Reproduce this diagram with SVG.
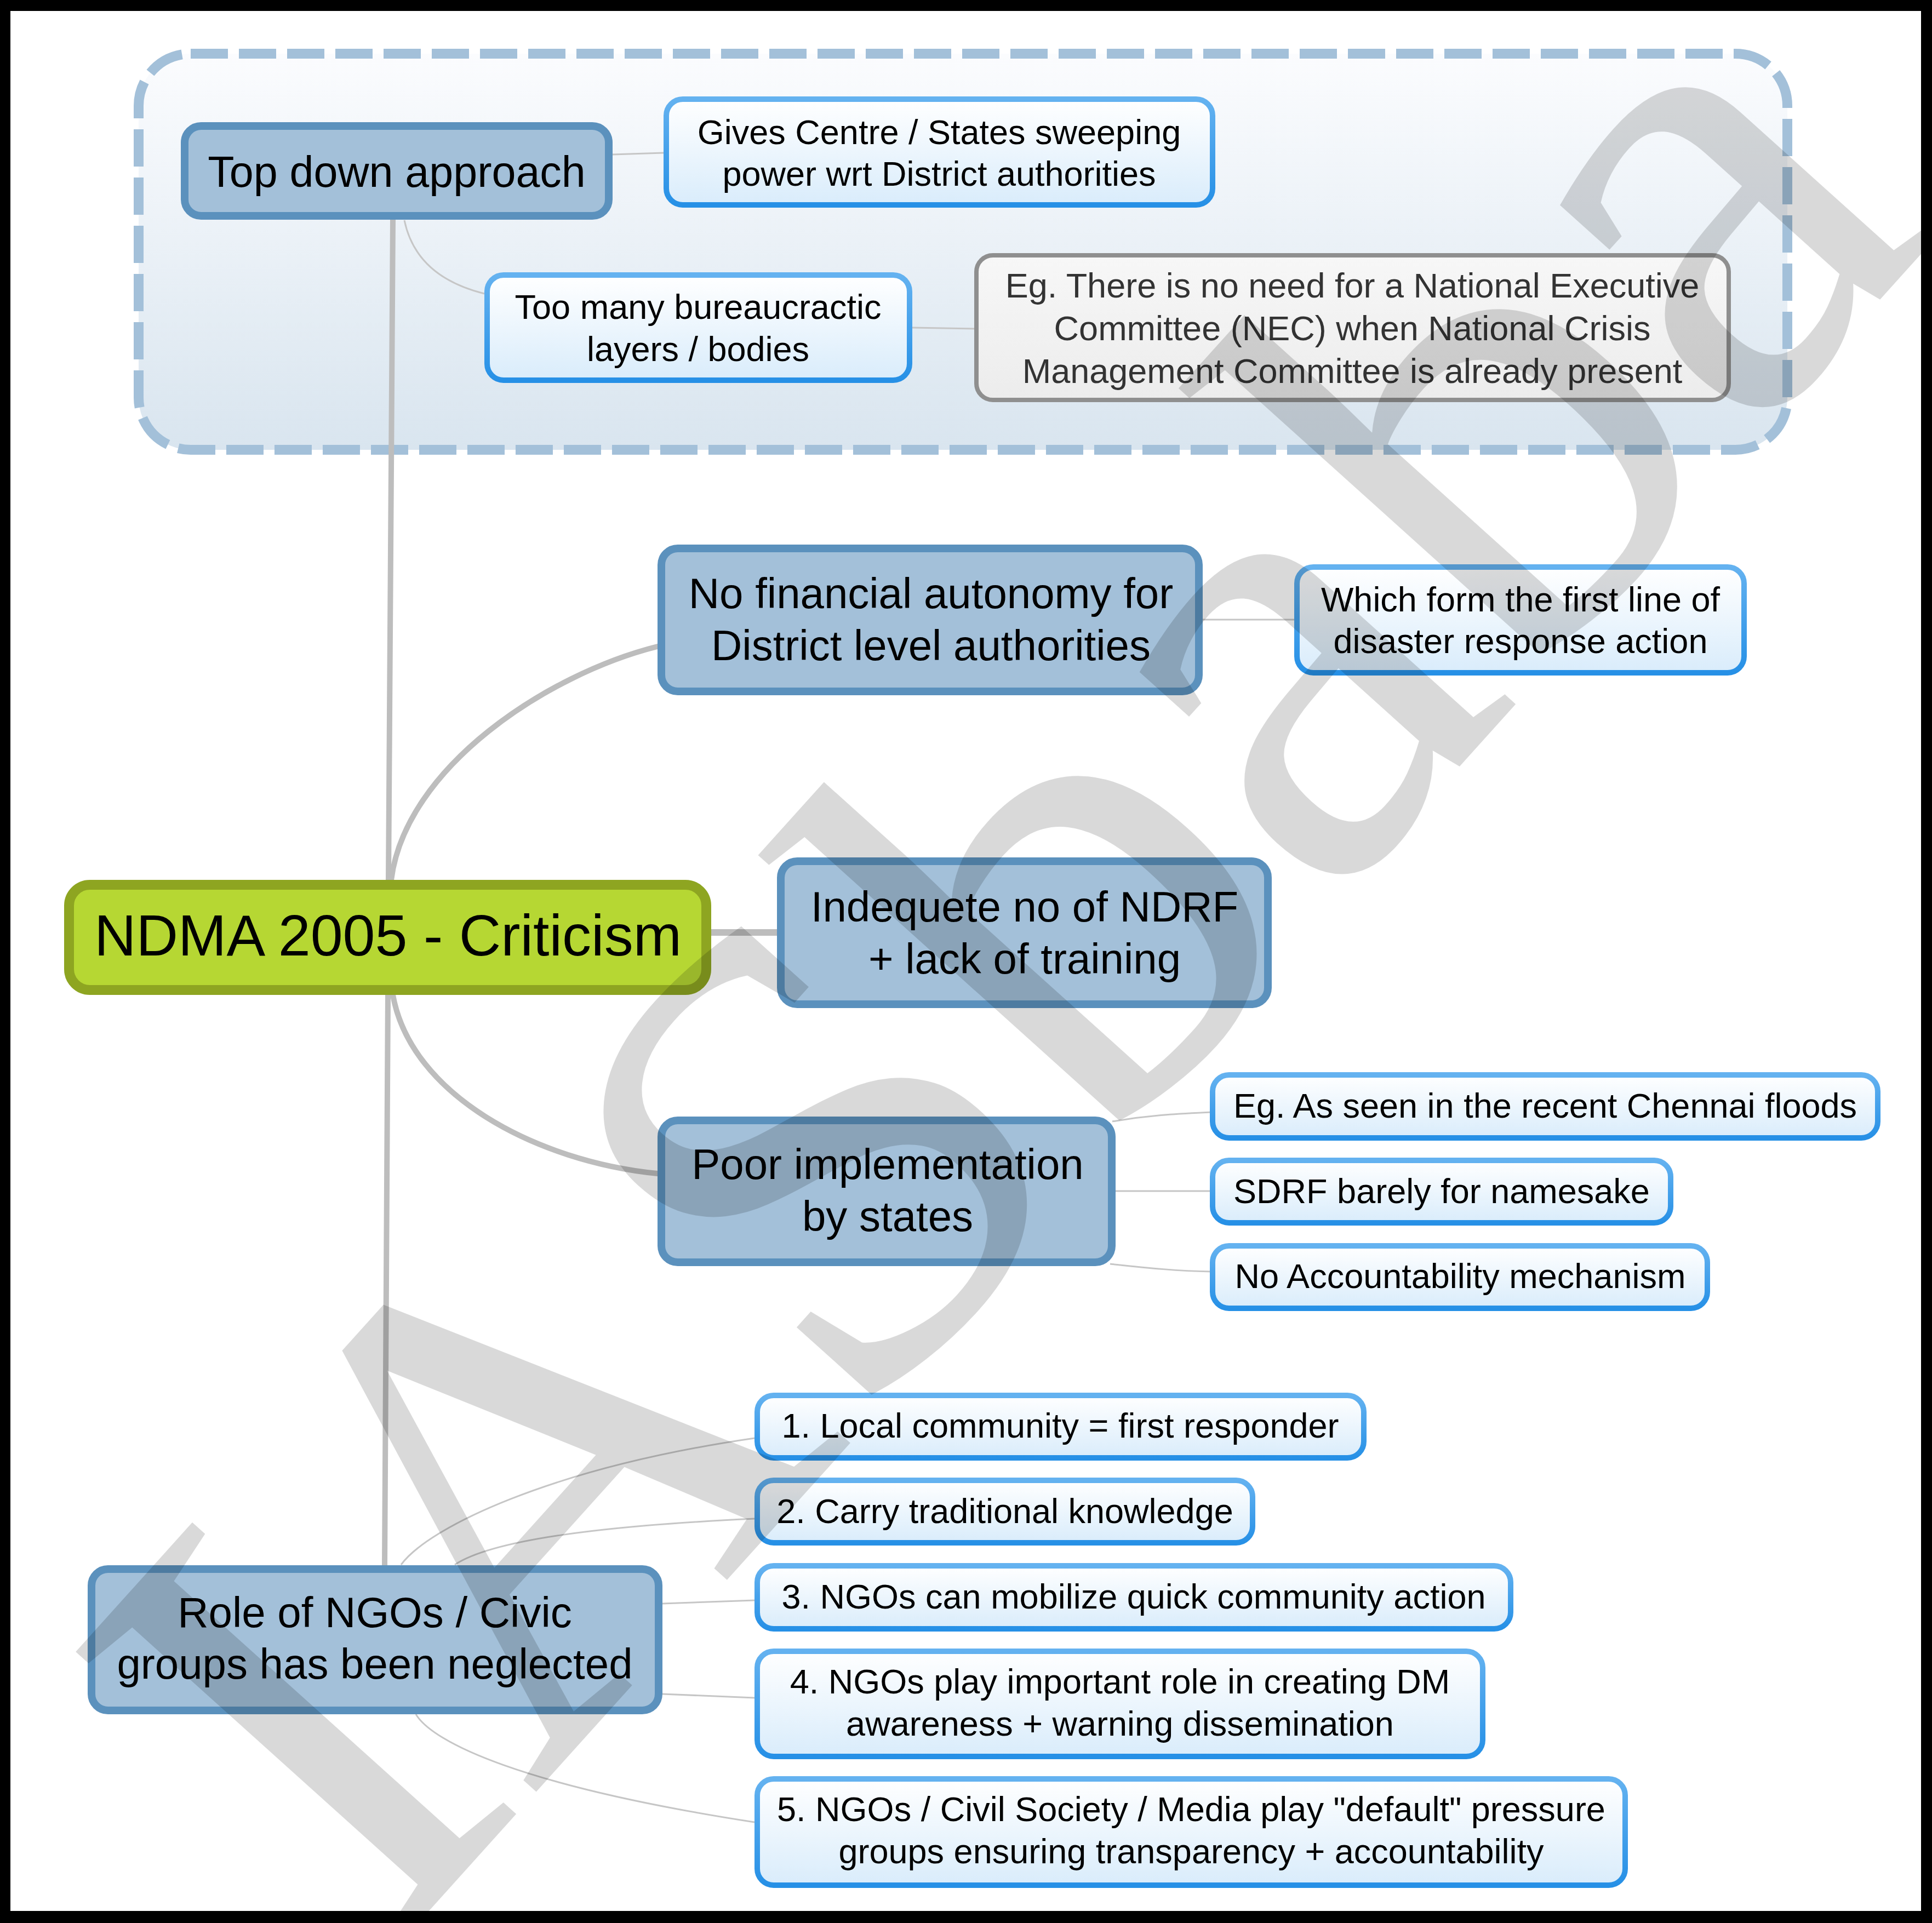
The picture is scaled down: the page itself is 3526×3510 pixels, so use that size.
<svg xmlns="http://www.w3.org/2000/svg" width="3526" height="3510" viewBox="0 0 3526 3510">
<defs>
<linearGradient id="gGroup" x1="0" y1="0" x2="0" y2="1"><stop offset="0" stop-color="#fbfcfe"/><stop offset="1" stop-color="#d9e5ef"/></linearGradient>
<linearGradient id="gLeaf" x1="0" y1="0" x2="0" y2="1"><stop offset="0" stop-color="#ffffff"/><stop offset="1" stop-color="#d9ecfb"/></linearGradient>
<linearGradient id="gLeafS" x1="0" y1="0" x2="0" y2="1"><stop offset="0" stop-color="#64b2f0"/><stop offset="1" stop-color="#2690e6"/></linearGradient>
<linearGradient id="gGray" x1="0" y1="0" x2="0" y2="1"><stop offset="0" stop-color="#f7f7f7"/><stop offset="1" stop-color="#ececec"/></linearGradient>
</defs>
<style>
text{font-family:"Liberation Sans",Arial,sans-serif;text-anchor:middle;fill:#000}
.main rect{fill:#a3c0d9;stroke:#5b91bd;stroke-width:14}
.leaf rect{fill:url(#gLeaf);stroke:url(#gLeafS);stroke-width:10}
.main text{font-size:78px}
.leaf text{font-size:63px}
.gray rect{fill:url(#gGray);stroke:#8f8f8f;stroke-width:8}
.gray text{font-size:63px;fill:#333}
.root rect{fill:#b6d733;stroke:#8ea521;stroke-width:18}
.root text{font-size:106px}
.thick{fill:none;stroke:#bdbdbd;stroke-width:10;stroke-linecap:round}
.thin{fill:none;stroke:#c6c6c6;stroke-width:3}
</style>
<rect x="0" y="0" width="3526" height="3510" fill="#000"/>
<rect x="19" y="20" width="3487" height="3468" fill="#fff"/>
<g id="group-topdown">
<rect x="253" y="98" width="3009" height="723" rx="95" fill="url(#gGroup)" stroke="#a3c0d9" stroke-width="18" stroke-dasharray="68 20"/>
</g>
<g id="connectors">
<path class="thick" d="M709 1606 L717 401"/>
<path class="thick" d="M714 1606 C740 1400 1000 1230 1200 1180"/>
<path class="thick" d="M1298 1702 L1418 1702" style="stroke-width:12"/>
<path class="thick" d="M717 1816 C750 2000 980 2120 1200 2142"/>
<path class="thick" d="M708 1816 L702 2857"/>
<path class="thin" d="M1118 282 L1211 279"/>
<path class="thin" d="M738 402 C752 470 800 515 884 536"/>
<path class="thin" d="M1665 598 L1778 600"/>
<path class="thin" d="M2195 1131 L2362 1131"/>
<path class="thin" d="M2030 2047 C2100 2035 2150 2033 2210 2030"/>
<path class="thin" d="M2036 2174 L2210 2174"/>
<path class="thin" d="M2026 2307 C2100 2315 2150 2320 2210 2321"/>
<path class="thin" d="M732 2856 C780 2790 1000 2680 1377 2625"/>
<path class="thin" d="M830 2856 C900 2810 1100 2785 1377 2772"/>
<path class="thin" d="M1209 2927 L1377 2921"/>
<path class="thin" d="M1209 3092 L1377 3099"/>
<path class="thin" d="M759 3129 C790 3180 950 3260 1377 3326"/>
</g>
<g id="n-topdown" class="main"><rect x="337" y="230" width="774" height="164" rx="30"/><text x="724" y="341" style="font-size:79px">Top down approach</text></g>
<g id="n-gives" class="leaf"><rect x="1216" y="181" width="997" height="193" rx="30"/><text x="1714" y="263">Gives Centre / States sweeping</text><text x="1714" y="339">power wrt District authorities</text></g>
<g id="n-toomany" class="leaf"><rect x="889" y="502" width="771" height="192" rx="30"/><text x="1274" y="582">Too many bureaucractic</text><text x="1274" y="659">layers / bodies</text></g>
<g id="n-eg-nec" class="gray"><rect x="1782" y="466" width="1373" height="264" rx="30"/><text x="2468" y="543">Eg. There is no need for a National Executive</text><text x="2468" y="621">Committee (NEC) when National Crisis</text><text x="2468" y="699">Management Committee is already present</text></g>
<g id="n-nofin" class="main"><rect x="1207" y="1001" width="981" height="261" rx="30"/><text x="1699" y="1110">No financial autonomy for</text><text x="1699" y="1205">District level authorities</text></g>
<g id="n-which" class="leaf"><rect x="2367" y="1035" width="816" height="193" rx="30"/><text x="2775" y="1116">Which form the first line of</text><text x="2775" y="1192">disaster response action</text></g>
<g id="n-ndrf" class="main"><rect x="1425" y="1572" width="889" height="261" rx="30"/><text x="1870" y="1682">Indequete no of NDRF</text><text x="1870" y="1777">+ lack of training</text></g>
<g id="n-root" class="root"><rect x="126" y="1615" width="1163" height="192" rx="38"/><text x="708" y="1744">NDMA 2005 - Criticism</text></g>
<g id="n-poor" class="main"><rect x="1207" y="2045" width="822" height="259" rx="30"/><text x="1620" y="2152">Poor implementation</text><text x="1620" y="2247">by states</text></g>
<g id="n-chennai" class="leaf"><rect x="2213" y="1962" width="1214" height="115" rx="30"/><text x="2820" y="2040">Eg. As seen in the recent Chennai floods</text></g>
<g id="n-sdrf" class="leaf"><rect x="2213" y="2118" width="836" height="114" rx="30"/><text x="2631" y="2196">SDRF barely for namesake</text></g>
<g id="n-noacc" class="leaf"><rect x="2213" y="2274" width="903" height="114" rx="30"/><text x="2665" y="2351">No Accountability mechanism</text></g>
<g id="n-ngo" class="main"><rect x="167" y="2864" width="1035" height="258" rx="30"/><text x="684" y="2970">Role of NGOs / Civic</text><text x="684" y="3064">groups has been neglected</text></g>
<g id="n-l1" class="leaf"><rect x="1382" y="2547" width="1107" height="114" rx="30"/><text x="1935" y="2624">1. Local community = first responder</text></g>
<g id="n-l2" class="leaf"><rect x="1382" y="2702" width="904" height="114" rx="30"/><text x="1834" y="2780">2. Carry traditional knowledge</text></g>
<g id="n-l3" class="leaf"><rect x="1382" y="2858" width="1375" height="115" rx="30"/><text x="2069" y="2936">3. NGOs can mobilize quick community action</text></g>
<g id="n-l4" class="leaf"><rect x="1382" y="3014" width="1324" height="192" rx="30"/><text x="2044" y="3091">4. NGOs play important role in creating DM</text><text x="2044" y="3168">awareness + warning dissemination</text></g>
<g id="n-l5" class="leaf"><rect x="1382" y="3247" width="1584" height="194" rx="30"/><text x="2174" y="3324">5. NGOs / Civil Society / Media play "default" pressure</text><text x="2174" y="3401">groups ensuring transparency + accountability</text></g>
<g id="watermark"><text transform="translate(700,3580) rotate(-48)" style="font-family:'Liberation Serif','Times New Roman',serif;font-size:1215px;text-anchor:start;fill:#000;fill-opacity:0.15">IASbaba</text></g>
</svg>
